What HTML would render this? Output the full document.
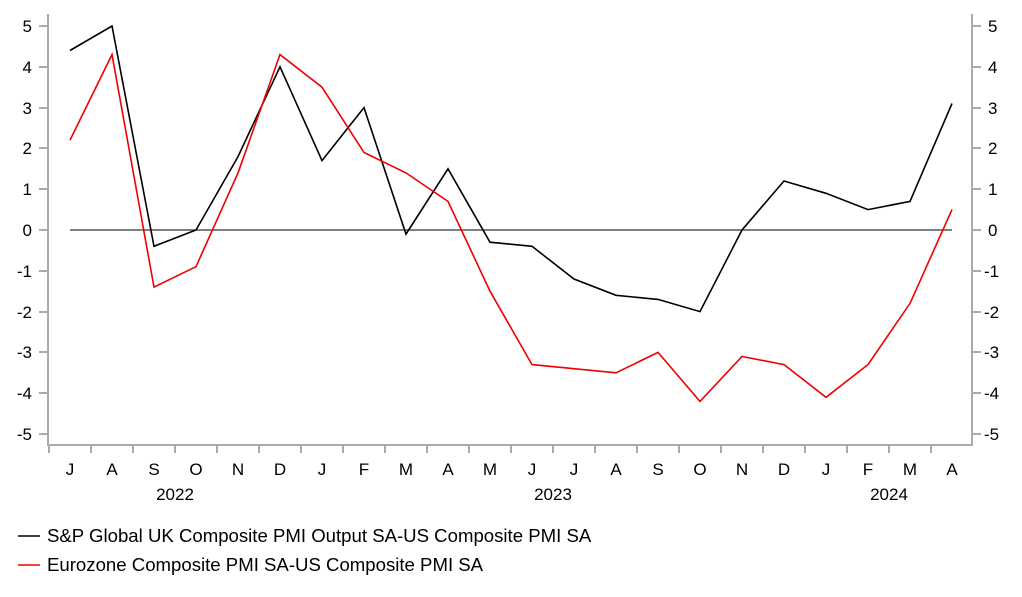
<html><body style="margin:0;background:#fff">
<svg width="1022" height="597" xmlns="http://www.w3.org/2000/svg" font-family="Liberation Sans, Arial, sans-serif" font-size="17">
<g stroke="#aaa" stroke-width="2" fill="none">
<path d="M48,14V445H972V14"/>
<path d="M39,26H48M39,67H48M39,108H48M39,148H48M39,189H48M39,230H48M39,271H48M39,312H48M39,352H48M39,393H48M39,434H48"/>
<path d="M972,26H981M972,67H981M972,108H981M972,148H981M972,189H981M972,230H981M972,271H981M972,312H981M972,352H981M972,393H981M972,434H981"/>
<path d="M49,445v8M91,445v8M133,445v8M175,445v8M217,445v8M259,445v8M301,445v8M343,445v8M385,445v8M427,445v8M469,445v8M511,445v8M553,445v8M595,445v8M637,445v8M679,445v8M721,445v8M763,445v8M805,445v8M847,445v8M889,445v8M931,445v8"/>
</g>
<line x1="70" y1="230" x2="952" y2="230" stroke="#555" stroke-width="1.5"/>
<g text-anchor="end" fill="#000">
<text x="32" y="32">5</text><text x="32" y="73">4</text><text x="32" y="114">3</text><text x="32" y="154">2</text><text x="32" y="195">1</text><text x="32" y="236">0</text><text x="32" y="277">-1</text><text x="32" y="318">-2</text><text x="32" y="358">-3</text><text x="32" y="399">-4</text><text x="32" y="440">-5</text>
</g>
<g text-anchor="start" fill="#000">
<text x="988" y="32">5</text><text x="988" y="73">4</text><text x="988" y="114">3</text><text x="988" y="154">2</text><text x="988" y="195">1</text><text x="988" y="236">0</text><text x="984" y="277">-1</text><text x="984" y="318">-2</text><text x="984" y="358">-3</text><text x="984" y="399">-4</text><text x="984" y="440">-5</text>
</g>
<g text-anchor="middle" fill="#000">
<text x="70" y="475">J</text><text x="112" y="475">A</text><text x="154" y="475">S</text><text x="196" y="475">O</text><text x="238" y="475">N</text><text x="280" y="475">D</text><text x="322" y="475">J</text><text x="364" y="475">F</text><text x="406" y="475">M</text><text x="448" y="475">A</text><text x="490" y="475">M</text><text x="532" y="475">J</text><text x="574" y="475">J</text><text x="616" y="475">A</text><text x="658" y="475">S</text><text x="700" y="475">O</text><text x="742" y="475">N</text><text x="784" y="475">D</text><text x="826" y="475">J</text><text x="868" y="475">F</text><text x="910" y="475">M</text><text x="952" y="475">A</text>
<text x="175" y="500">2022</text><text x="553" y="500">2023</text><text x="889" y="500">2024</text>
</g>
<polyline fill="none" stroke="#000" stroke-width="1.6" points="70,50.5 112,26 154,246.3 196,230 238,156.6 280,66.8 322,160.6 364,107.6 406,234.1 448,168.8 490,242.2 532,246.3 574,279 616,295.3 658,299.4 700,311.6 742,230 784,181 826,193.3 868,209.6 910,201.4 952,103.5"/>
<polyline fill="none" stroke="#e00" stroke-width="1.6" points="70,140.2 112,54.6 154,287.1 196,266.7 238,172.9 280,54.6 322,87.2 364,152.5 406,172.9 448,201.4 490,291.2 532,364.6 574,368.7 616,372.8 658,352.4 700,401.4 742,356.5 784,364.6 826,397.3 868,364.6 910,303.4 952,209.6"/>
<line x1="18" y1="536" x2="40" y2="536" stroke="#000" stroke-width="1.6"/>
<text x="47" y="542" fill="#000" font-size="18.6">S&amp;P Global UK Composite PMI Output SA-US Composite PMI SA</text>
<line x1="18" y1="565" x2="40" y2="565" stroke="#e00" stroke-width="1.6"/>
<text x="47" y="571" fill="#000" font-size="18.6">Eurozone Composite PMI SA-US Composite PMI SA</text>
</svg>
</body></html>
